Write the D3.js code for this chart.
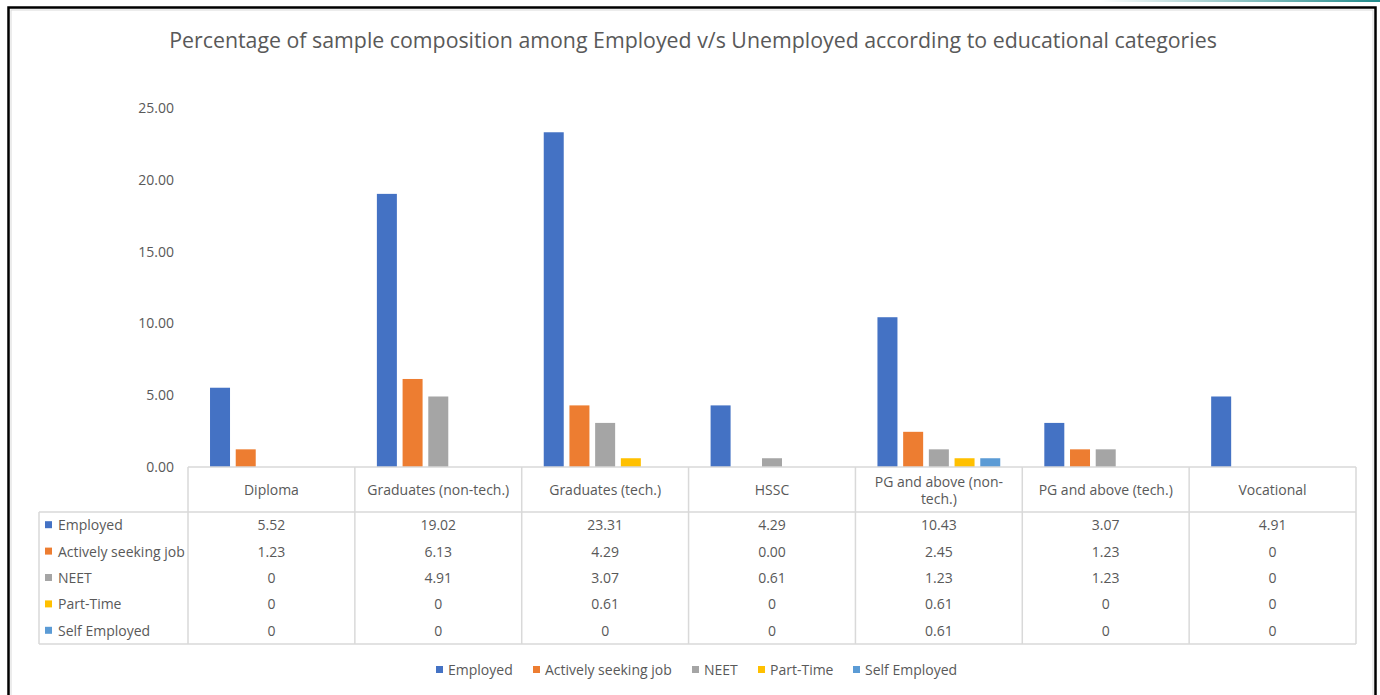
<!DOCTYPE html>
<html><head><meta charset="utf-8">
<script src="https://cdn.jsdelivr.net/npm/d3@7"></script>
<style>body{margin:0;background:#fff}svg{display:block}text{font-family:"Open Sans",sans-serif;fill:#595959}</style>
</head><body><svg id="c" width="1380" height="695"></svg>
<script>
const title = "Percentage of sample composition among Employed v/s Unemployed according to educational categories";
const categories = ["Diploma","Graduates (non-tech.)","Graduates (tech.)","HSSC","PG and above (non-tech.)","PG and above (tech.)","Vocational"];
const categoryLines = [["Diploma"],["Graduates (non-tech.)"],["Graduates (tech.)"],["HSSC"],["PG and above (non-","tech.)"],["PG and above (tech.)"],["Vocational"]];
const seriesNames = ["Employed","Actively seeking job","NEET","Part-Time","Self Employed"];
const employed = [5.52,19.02,23.31,4.29,10.43,3.07,4.91];
const activelySeeking = [1.23,6.13,4.29,0.00,2.45,1.23,0];
const neet = [0,4.91,3.07,0.61,1.23,1.23,0];
const partTime = [0,0,0.61,0,0.61,0,0];
const selfEmployed = [0,0,0,0,0.61,0,0];
const tableText = [
  ["5.52","19.02","23.31","4.29","10.43","3.07","4.91"],
  ["1.23","6.13","4.29","0.00","2.45","1.23","0"],
  ["0","4.91","3.07","0.61","1.23","1.23","0"],
  ["0","0","0.61","0","0.61","0","0"],
  ["0","0","0","0","0.61","0","0"]
];
const yTicks = [0,5,10,15,20,25];
const colors = ["#4472C4","#ED7D31","#A5A5A5","#FFC000","#5B9BD5"];
const seriesValues = [employed, activelySeeking, neet, partTime, selfEmployed];

const svg = d3.select("#c");
// top-right accent line
const defs = svg.append("defs");
const g0 = defs.append("linearGradient").attr("id","tl");
g0.append("stop").attr("offset","0").attr("stop-color","#1f8a8a").attr("stop-opacity",0);
g0.append("stop").attr("offset","1").attr("stop-color","#1f8a8a").attr("stop-opacity",1);
svg.append("rect").attr("x",1100).attr("y",0).attr("width",280).attr("height",2).attr("fill","url(#tl)");
// frame
svg.append("rect").attr("x",8.5).attr("y",7.5).attr("width",1367).attr("height",700).attr("fill","#fff").attr("stroke","#000").attr("stroke-width",2.5);
svg.append("rect").attr("x",11).attr("y",10).attr("width",1362).attr("height",700).attr("fill","none").attr("stroke","#d9d9d9").attr("stroke-width",1);

const t = svg.append("text").attr("x",693).attr("y",48).attr("text-anchor","middle").attr("font-size",20).text(title);
// fit title width
const target = 1048; let fs = 20;
const w0 = t.node().getComputedTextLength(); fs = 20*target/w0; t.attr("font-size",fs);

const x0 = d3.scaleBand().domain(categories).range([188,1356]).paddingInner(0.264).paddingOuter(0.132);
const x1 = d3.scaleBand().domain(seriesNames).range([0,x0.bandwidth()]).paddingInner(0.222);
const y = d3.scaleLinear().domain([0,25]).range([467,108]);

// y axis labels
const ya = svg.append("g").attr("transform","translate(174,0)").call(d3.axisLeft(y).tickValues(yTicks).tickFormat(d3.format(".2f")).tickSize(0).tickPadding(0));
ya.select(".domain").remove();
ya.selectAll("text").attr("font-size",14).style("font-family","'Open Sans',sans-serif").attr("fill","#595959");

// bars
seriesNames.forEach((s,si)=>{
  svg.append("g").selectAll("rect").data(seriesValues[si]).join("rect")
    .attr("x",(d,i)=>x0(categories[i])+x1(s))
    .attr("y",d=>y(d)).attr("width",x1.bandwidth()).attr("height",d=>y(0)-y(d))
    .attr("fill",colors[si]);
});

// table
const lc = "#d9d9d9";
const rowTop = 512, rowH = 26.4, tableBottom = rowTop + rowH*5;
const colW = x0.step();
const line = (x1_,y1_,x2_,y2_)=>svg.append("line").attr("x1",x1_).attr("y1",y1_).attr("x2",x2_).attr("y2",y2_).attr("stroke",lc).attr("stroke-width",1.5);
line(188,467,1356,467);
line(39,rowTop,1356,rowTop);
line(39,tableBottom,1356,tableBottom);
line(39,rowTop,39,tableBottom);
for(let i=0;i<=categories.length;i++){ const xx=188+i*colW; line(xx,467,xx,tableBottom); }

categories.forEach((c,i)=>{
  const cx = x0(c)+x0.bandwidth()/2;
  const lines = categoryLines[i];
  lines.forEach((l,li)=>{
    svg.append("text").attr("x",cx).attr("y",490+5+(li-(lines.length-1)/2)*17).attr("text-anchor","middle").attr("font-size",14).text(l);
  });
});
seriesNames.forEach((s,si)=>{
  const cy = rowTop + rowH*si + rowH/2;
  svg.append("rect").attr("x",45).attr("y",cy-4).attr("width",7).attr("height",7).attr("fill",colors[si]);
  svg.append("text").attr("x",58).attr("y",cy+5).attr("font-size",14).text(s);
  tableText[si].forEach((v,i)=>{
    svg.append("text").attr("x",x0(categories[i])+x0.bandwidth()/2).attr("y",cy+5).attr("text-anchor","middle").attr("font-size",14).text(v);
  });
});

// legend
const legX = [436,533,692,758,853];
seriesNames.forEach((s,si)=>{
  svg.append("rect").attr("x",legX[si]).attr("y",666).attr("width",7).attr("height",7).attr("fill",colors[si]);
  svg.append("text").attr("x",legX[si]+12).attr("y",675).attr("font-size",14).text(s);
});
</script></body></html>
